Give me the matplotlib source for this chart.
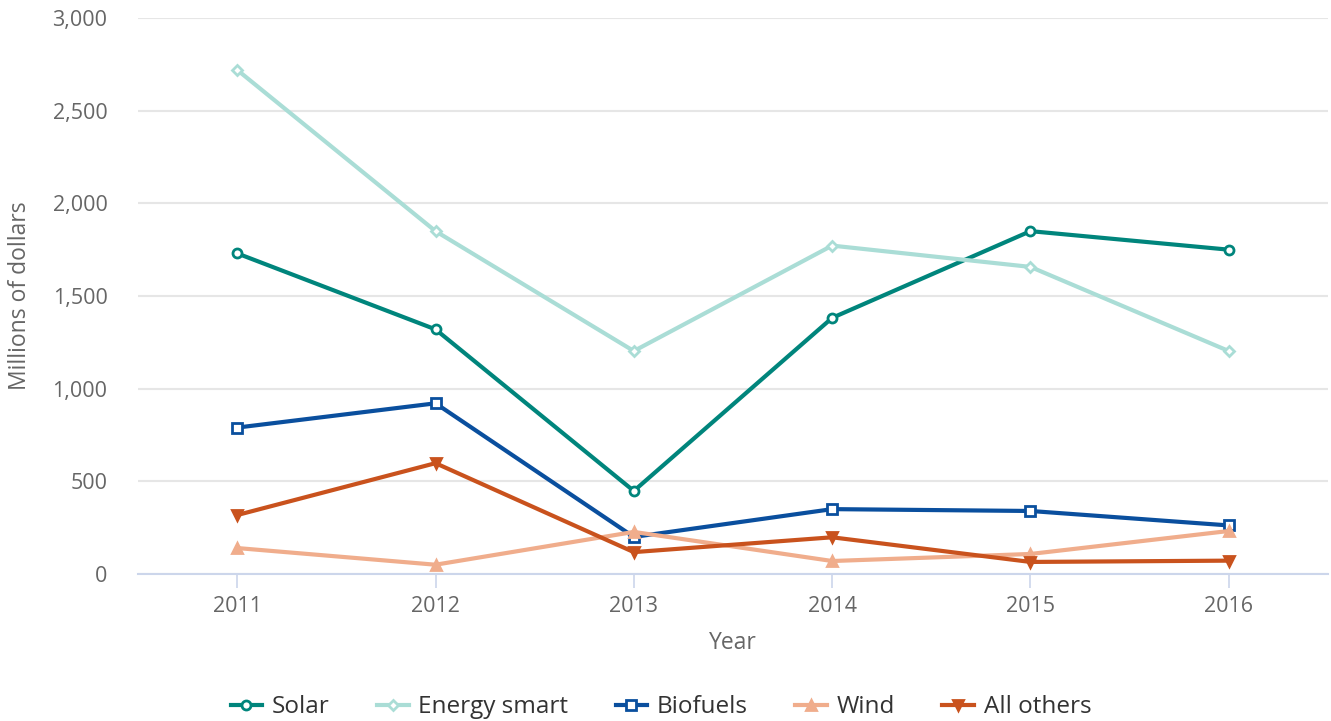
import matplotlib
matplotlib.use('Agg')
import matplotlib.pyplot as plt
from matplotlib.ticker import FuncFormatter

plt.rcParams['font.family'] = ['Open Sans', 'DejaVu Sans']

years = [2011, 2012, 2013, 2014, 2015, 2016]
solar = [1730, 1320, 448, 1382, 1850, 1750]
energy_smart = [2720, 1850, 1203, 1772, 1657, 1203]
biofuels = [790, 921, 200, 350, 340, 262]
wind = [140, 50, 227, 70, 108, 232]
all_others = [318, 598, 118, 198, 65, 72]

series = [
    ('Solar', solar, '#00857c', 'o', 'white'),
    ('Energy smart', energy_smart, '#aaddd6', 'D', 'white'),
    ('Biofuels', biofuels, '#0a4f9e', 's', 'white'),
    ('Wind', wind, '#f0ad8c', '^', None),
    ('All others', all_others, '#c9521d', 'v', None),
]

fig = plt.figure(figsize=(13.31, 7.21), dpi=100)
ax = fig.add_axes([0.1037, 0.2039, 0.894, 0.7711])

sizes = {'o': 6.5, 's': 6.5, 'D': 5, '^': 7, 'v': 7}
for name, vals, color, marker, face in series:
    ax.plot(years, vals, color=color, lw=3, marker=marker, ms=sizes[marker],
            mfc=face if face else color, mec=color, mew=2, label=name,
            zorder=3)

ax.set_xlim(2010.5, 2016.5)
ax.set_ylim(0, 3000)
ax.set_yticks([0, 500, 1000, 1500, 2000, 2500, 3000])
ax.yaxis.set_major_formatter(FuncFormatter(lambda v, p: f'{int(v):,}'))
ax.set_xticks(years)
ax.grid(axis='y', color='#e6e6e6', lw=1.5, zorder=0)
ax.set_axisbelow(True)
for s in ['top', 'right', 'left']:
    ax.spines[s].set_visible(False)
ax.spines['bottom'].set_color('#ccd6eb')
ax.spines['bottom'].set_linewidth(1.5)
ax.tick_params(axis='y', length=0, labelsize=15.5, labelcolor='#666666', pad=22)
ax.tick_params(axis='x', length=10, width=1.2, color='#ccd6eb',
               labelsize=15.5, labelcolor='#666666', pad=6)

ax.set_xlabel('Year', fontsize=16.5, color='#666666', labelpad=10)
fig.text(0.015, 0.59, 'Millions of dollars', rotation=90, fontsize=16.5,
         color='#666666', ha='center', va='center')

leg = fig.legend(loc='center', bbox_to_anchor=(0.4966, 0.019), ncol=5,
                 frameon=False, fontsize=17.5, handlelength=1.3,
                 columnspacing=1.95, handletextpad=0.4)
for t in leg.get_texts():
    t.set_color('#333333')

fig.savefig('out.png', dpi=100)
